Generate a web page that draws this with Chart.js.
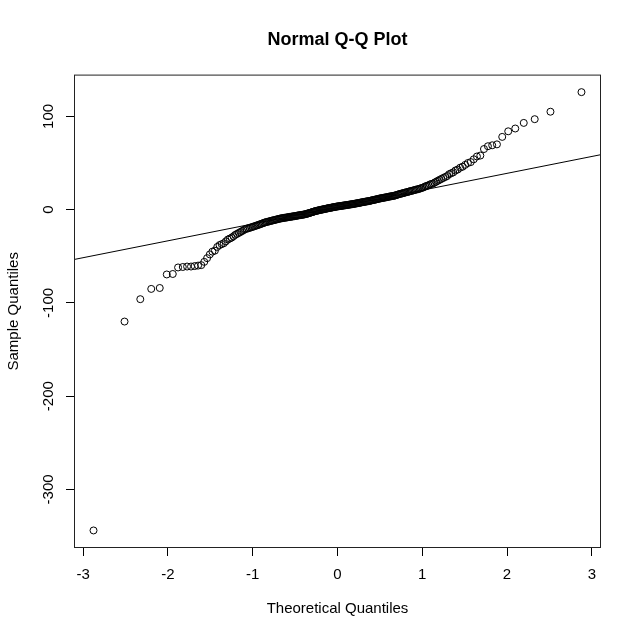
<!DOCTYPE html>
<html>
<head>
<meta charset="utf-8">
<script src="https://cdn.jsdelivr.net/npm/chart.js@4.4.1/dist/chart.umd.min.js"></script>
<style>
  html, body { margin: 0; padding: 0; background: #ffffff; }
  #wrap { width: 640px; height: 640px; }
</style>
</head>
<body>
<div id="wrap"><canvas id="c" width="640" height="640"></canvas></div>
<script>
// ---- Data (sorted sample values, n = 250) ----
const sampleQuantiles = [
  -344, -120, -96, -85, -84, -69.5, -69, -62, -61.5, -61,
  -61, -60.5, -60, -59.5, -56, -52, -48, -45, -44, -40,
  -38, -37, -36, -34, -32, -31, -30, -28.5, -27, -26,
  -25, -24, -23, -22, -21, -20.5, -20, -19.5, -19, -18.5,
  -18, -17.5, -17, -16.5, -16, -15.5, -15, -14.5, -14, -13.5,
  -13.2, -12.9, -12.6, -12.2, -11.9, -11.6, -11.3, -11, -10.7, -10.4,
  -10.1, -9.8, -9.5, -9.3, -9.1, -8.9, -8.7, -8.6, -8.4, -8.2,
  -8, -7.8, -7.7, -7.5, -7.3, -7.1, -7, -6.8, -6.6, -6.4,
  -6.2, -6, -5.9, -5.7, -5.5, -5.4, -5.2, -5, -4.8, -4.5,
  -4.2, -3.9, -3.6, -3.3, -3, -2.7, -2.4, -2.1, -1.8, -1.5,
  -1.3, -1.1, -0.9, -0.6, -0.4, -0.2, 0, 0.2, 0.4, 0.6,
  0.8, 1, 1.2, 1.4, 1.6, 1.8, 1.9, 2.1, 2.3, 2.5,
  2.7, 2.8, 3, 3.2, 3.4, 3.5, 3.6, 3.8, 3.9, 4,
  4.2, 4.3, 4.5, 4.6, 4.7, 4.9, 5, 5.2, 5.3, 5.5,
  5.6, 5.8, 5.9, 6.1, 6.3, 6.4, 6.6, 6.8, 6.9, 7.1,
  7.3, 7.5, 7.7, 7.9, 8, 8.2, 8.4, 8.6, 8.8, 8.9,
  9.1, 9.3, 9.5, 9.8, 10, 10.2, 10.4, 10.7, 10.9, 11.1,
  11.4, 11.6, 11.9, 12.1, 12.3, 12.5, 12.7, 12.9, 13.1, 13.3,
  13.5, 13.8, 14, 14.2, 14.4, 14.6, 14.8, 15, 15.4, 15.8,
  16.2, 16.5, 16.9, 17.2, 17.5, 17.8, 18.2, 18.5, 18.8, 19.2,
  19.5, 20, 20.2, 20.6, 21, 21.3, 21.8, 22, 22.5, 23,
  23.5, 24, 25, 25.5, 26, 27, 27.5, 28, 29, 30,
  31, 32, 33, 34, 35, 36, 38, 39, 40, 42,
  43, 45, 46, 48, 50, 51, 54, 57, 58, 65,
  68, 69, 70, 78, 84, 87, 93, 97, 105, 126
];
const xTickValues = [-3, -2, -1, 0, 1, 2, 3];
const yTickValues = [-300, -200, -100, 0, 100];
const chartTitle = 'Normal Q-Q Plot';
const xAxisTitle = 'Theoretical Quantiles';
const yAxisTitle = 'Sample Quantiles';

// ---- Statistics as in R's qqnorm / qqline ----
function qnorm(p) {
  // Acklam's inverse normal CDF
  const a = [-3.969683028665376e+01, 2.209460984245205e+02, -2.759285104469687e+02, 1.383577518672690e+02, -3.066479806614716e+01, 2.506628277459239e+00];
  const b = [-5.447609879822406e+01, 1.615858368580409e+02, -1.556989798598866e+02, 6.680131188771972e+01, -1.328068155288572e+01];
  const c = [-7.784894002430293e-03, -3.223964580411365e-01, -2.400758277161838e+00, -2.549732539343734e+00, 4.374664141464968e+00, 2.938163982698783e+00];
  const d = [7.784695709041462e-03, 3.224671290700398e-01, 2.445134137142996e+00, 3.754408661907416e+00];
  const pl = 0.02425, ph = 1 - pl;
  let q, r;
  if (p < pl) {
    q = Math.sqrt(-2 * Math.log(p));
    return (((((c[0]*q+c[1])*q+c[2])*q+c[3])*q+c[4])*q+c[5]) / ((((d[0]*q+d[1])*q+d[2])*q+d[3])*q+1);
  } else if (p <= ph) {
    q = p - 0.5; r = q * q;
    return (((((a[0]*r+a[1])*r+a[2])*r+a[3])*r+a[4])*r+a[5])*q / (((((b[0]*r+b[1])*r+b[2])*r+b[3])*r+b[4])*r+1);
  } else {
    q = Math.sqrt(-2 * Math.log(1 - p));
    return -(((((c[0]*q+c[1])*q+c[2])*q+c[3])*q+c[4])*q+c[5]) / ((((d[0]*q+d[1])*q+d[2])*q+d[3])*q+1);
  }
}
const n = sampleQuantiles.length;
const points = sampleQuantiles.map((v, i) => ({ x: qnorm((i + 1 - 0.5) / n), y: v }));

function quantile7(sorted, p) {
  const h = (sorted.length - 1) * p;
  const lo = Math.floor(h);
  const hi = Math.min(lo + 1, sorted.length - 1);
  return sorted[lo] + (h - lo) * (sorted[hi] - sorted[lo]);
}
const q1 = quantile7(sampleQuantiles, 0.25), q3 = quantile7(sampleQuantiles, 0.75);
const z1 = qnorm(0.25), z3 = qnorm(0.75);
const slope = (q3 - q1) / (z3 - z1);
const intercept = q1 - slope * z1;

// axis limits like R (data range extended by 4%)
const xs = points.map(p => p.x);
const xMinD = Math.min(...xs), xMaxD = Math.max(...xs);
const yMinD = Math.min(...sampleQuantiles), yMaxD = Math.max(...sampleQuantiles);
const xPad = 0.04 * (xMaxD - xMinD), yPad = 0.04 * (yMaxD - yMinD);
const xLim = [xMinD - xPad, xMaxD + xPad];
const yLim = [yMinD - yPad, yMaxD + yPad];
const linePts = xLim.map(x => ({ x: x, y: intercept + slope * x }));

const FONT = "'Liberation Sans', Arial, Helvetica, sans-serif";

const boxPlugin = {
  id: 'rbox',
  afterDraw(chart) {
    const { ctx, chartArea: a } = chart;
    ctx.save();
    ctx.strokeStyle = '#222';
    ctx.lineWidth = 1;
    ctx.strokeRect(a.left + 0.5, a.top + 0.5, a.right - a.left - 1, a.bottom - a.top - 1);
    ctx.restore();
  }
};

new Chart(document.getElementById('c'), {
  type: 'scatter',
  data: {
    datasets: [
      {
        label: 'sample',
        data: points,
        pointStyle: 'circle',
        pointRadius: 3.5,
        pointHoverRadius: 3.5,
        borderWidth: 1,
        borderColor: '#000',
        backgroundColor: 'rgba(0,0,0,0)'
      },
      {
        type: 'line',
        label: 'qqline',
        data: linePts,
        borderColor: '#000',
        borderWidth: 1,
        pointRadius: 0,
        fill: false
      }
    ]
  },
  options: {
    responsive: false,
    animation: false,
    devicePixelRatio: 1,
    layout: { padding: { left: 0, right: 39, top: 0, bottom: 0 } },
    plugins: {
      legend: { display: false },
      tooltip: { enabled: false },
      title: {
        display: true,
        fullSize: false,
        text: chartTitle,
        color: '#000',
        font: { family: FONT, size: 18, weight: 'bold' },
        padding: { top: 29, bottom: 24 }
      }
    },
    scales: {
      x: {
        type: 'linear',
        min: xLim[0],
        max: xLim[1],
        afterFit(s) { s.height = 92; },
        afterBuildTicks(s) { s.ticks = xTickValues.map(v => ({ value: v })); },
        border: { display: false },
        grid: { display: true, drawOnChartArea: false, drawTicks: true, tickLength: 8, color: '#000', lineWidth: 1 },
        ticks: { color: '#000', font: { family: FONT, size: 15 }, padding: 10, autoSkip: false, maxRotation: 0,
                 callback: v => String(v) },
        title: { display: true, text: xAxisTitle, color: '#000', font: { family: FONT, size: 15 }, padding: { top: 0, bottom: 22 } }
      },
      y: {
        type: 'linear',
        min: yLim[0],
        max: yLim[1],
        afterFit(s) { s.width = 74; },
        afterBuildTicks(s) { s.ticks = yTickValues.map(v => ({ value: v })); },
        border: { display: false },
        grid: { display: true, drawOnChartArea: false, drawTicks: true, tickLength: 8, color: '#000', lineWidth: 1 },
        ticks: { color: '#000', font: { family: FONT, size: 15 }, padding: 2, autoSkip: false,
                 minRotation: 90, maxRotation: 90, crossAlign: 'center', callback: v => String(v) },
        title: { display: true, text: yAxisTitle, color: '#000', font: { family: FONT, size: 15 }, padding: { top: 5, bottom: 0 } }
      }
    }
  },
  plugins: [boxPlugin]
});
</script>
</body>
</html>
